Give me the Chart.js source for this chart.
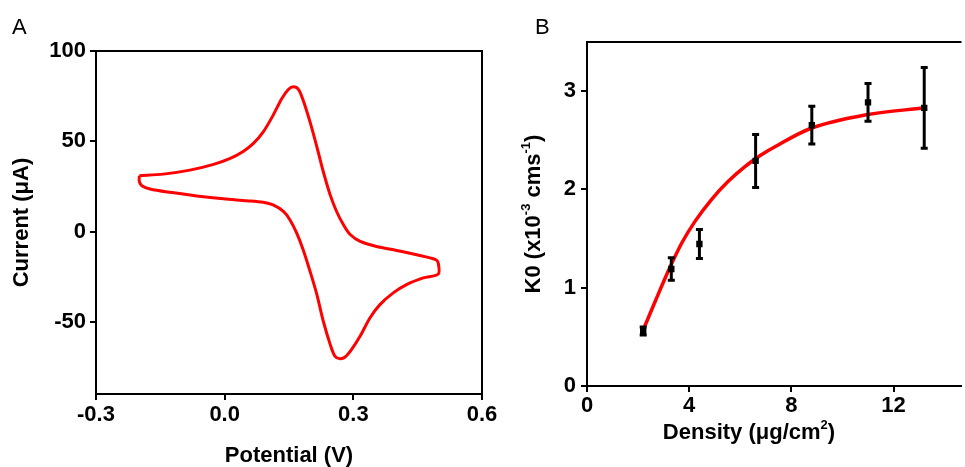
<!DOCTYPE html>
<html>
<head>
<meta charset="utf-8">
<script src="https://cdn.jsdelivr.net/npm/chart.js@4.4.1/dist/chart.umd.min.js"></script>
<style>
    html, body { margin: 0; padding: 0; background: #fff; }
    body { width: 965px; height: 467px; position: relative; overflow: hidden; font-family: "Liberation Sans", Arial, sans-serif; }
    .panel { position: absolute; top: 0; height: 467px; }
    #wrapA { left: 0; width: 500px; }
    #wrapB { left: 500px; width: 465px; }
    .tag { position: absolute; font-size: 22px; line-height: 22px; color: #000; }
</style>
</head>
<body>
<div class="panel" id="wrapA"><canvas id="cvChart"></canvas></div>
<div class="panel" id="wrapB"><canvas id="k0Chart"></canvas></div>
<div class="tag" style="left:12px;top:16px">A</div>
<div class="tag" style="left:535px;top:16px">B</div>
<script>
// Panel A - cyclic voltammogram, one closed loop
// lower branch left -> right, then upper branch right -> left
const cvPotential = [-0.199, -0.199, -0.193, -0.174, -0.127, -0.065, -0.003, 0.051, 0.090, 0.113,
    0.137, 0.152, 0.168, 0.183, 0.199, 0.215, 0.230, 0.246, 0.257, 0.269,
    0.281, 0.296, 0.316, 0.339, 0.362, 0.393, 0.424, 0.463, 0.498, 0.498,
    0.492, 0.448, 0.401, 0.354, 0.316, 0.292, 0.277, 0.261, 0.246, 0.230,
    0.215, 0.199, 0.183, 0.172, 0.160, 0.149, 0.133, 0.113, 0.090, 0.067,
    0.044, 0.013, -0.026, -0.081, -0.143, -0.199];
const cvCurrent = [30.9, 27.6, 25.4, 23.6, 21.7, 19.7, 18.1, 17.1, 16.2, 14.7,
    11.1, 6.5, -0.9, -10.1, -22.0, -34.9, -49.7, -62.5, -69.0, -70.5,
    -69.5, -65.3, -57.9, -47.8, -40.5, -34.0, -29.4, -25.7, -23.5, -17.5,
    -15.6, -12.9, -10.5, -8.3, -5.5, -1.5, 3.7, 11.1, 20.3, 33.1,
    46.9, 60.7, 72.7, 78.8, 80.2, 78.8, 73.6, 64.4, 55.2, 48.8,
    44.5, 40.5, 37.2, 34.0, 31.8, 30.9];
const potentialTicks = [-0.3, 0.0, 0.3, 0.6];
const currentTicks = [-50, 0, 50, 100];

// Panel B - K0 vs density
const densities = [2.2, 3.3, 4.4, 6.6, 8.8, 11.0, 13.2];
const k0 = [0.56, 1.19, 1.445, 2.29, 2.654, 2.886, 2.83];
const k0Err = [0.04, 0.115, 0.147, 0.27, 0.192, 0.193, 0.41];
const fitDensity = [2.2, 2.7, 3.27, 3.72, 4.24, 4.88, 5.52, 6.17, 6.81, 7.39, 8.75, 10.94, 13.2];
const fitK0 = [0.57, 0.88, 1.22, 1.46, 1.68, 1.90, 2.08, 2.23, 2.35, 2.44, 2.62, 2.76, 2.83];
const densityTicks = [0, 4, 8, 12];
const k0Ticks = [0, 1, 2, 3];

const FONT = '"Liberation Sans", Arial, sans-serif';
const tickFont = { family: FONT, size: 22, weight: 'bold' };
const titleFont = { family: FONT, size: 22, weight: 'bold', lineHeight: 1 };

// box lines on the sides without an axis
const framePlugin = {
    id: 'frame',
    afterDraw(chart, args, opts) {
        const { ctx, chartArea: a } = chart;
        ctx.save();
        ctx.strokeStyle = '#000';
        ctx.lineWidth = 2;
        ctx.lineCap = 'square';
        ctx.beginPath();
        ctx.moveTo(a.left, a.top);
        ctx.lineTo(a.right, a.top);
        if (opts.right) ctx.lineTo(a.right, a.bottom);
        ctx.stroke();
        ctx.restore();
    }
};

const errorBarPlugin = {
    id: 'errorBars',
    afterDatasetsDraw(chart) {
        const { ctx, scales: { x, y } } = chart;
        ctx.save();
        ctx.strokeStyle = '#000';
        ctx.lineWidth = 3;
        densities.forEach((d, i) => {
            const px = x.getPixelForValue(d);
            const top = y.getPixelForValue(k0[i] + k0Err[i]);
            const bot = y.getPixelForValue(k0[i] - k0Err[i]);
            ctx.beginPath();
            ctx.moveTo(px, top); ctx.lineTo(px, bot);
            ctx.moveTo(px - 3.5, top); ctx.lineTo(px + 3.5, top);
            ctx.moveTo(px - 3.5, bot); ctx.lineTo(px + 3.5, bot);
            ctx.stroke();
        });
        ctx.restore();
    }
};

// axis titles with superscripts
function drawRich(ctx, parts, cx, cy, angle) {
    const big = 'bold 22px ' + FONT;
    const small = 'bold 13px ' + FONT;
    let total = 0;
    parts.forEach(p => {
        ctx.font = p.sup ? small : big;
        p.w = ctx.measureText(p.t).width;
        total += p.w;
    });
    ctx.save();
    ctx.translate(cx, cy);
    ctx.rotate(angle);
    ctx.fillStyle = '#000';
    ctx.textBaseline = 'middle';
    ctx.textAlign = 'left';
    let xx = -total / 2;
    parts.forEach(p => {
        ctx.font = p.sup ? small : big;
        ctx.fillText(p.t, xx, p.sup ? -8 : 0);
        xx += p.w;
    });
    ctx.restore();
}

const richTitlePlugin = {
    id: 'richTitles',
    afterDraw(chart) {
        const { ctx, chartArea: a } = chart;
        drawRich(ctx, [{ t: 'Density (μg/cm' }, { t: '2', sup: true }, { t: ')' }],
            a.left + 162, 433, 0);
        drawRich(ctx, [{ t: 'K0 (x10' }, { t: '-3', sup: true }, { t: ' cms' }, { t: '-1', sup: true }, { t: ')' }],
            a.left - 53, (a.top + a.bottom) / 2, -Math.PI / 2);
    }
};

function axisBase(ticks, fmt, pad) {
    return {
        type: 'linear',
        afterBuildTicks: s => { s.ticks = ticks.map(v => ({ value: v })); },
        grid: { drawOnChartArea: false, tickLength: 6, color: '#000', lineWidth: 2 },
        border: { color: '#000', width: 2 },
        ticks: { font: tickFont, color: '#000', padding: pad, maxRotation: 0, autoSkip: false, callback: fmt }
    };
}

new Chart(document.getElementById('cvChart'), {
    type: 'scatter',
    data: {
        datasets: [{
            data: cvPotential.map((x, i) => ({ x: x, y: cvCurrent[i] })),
            showLine: true,
            borderColor: '#ff0000',
            borderWidth: 3,
            pointRadius: 0,
            tension: 0.3,
            fill: false
        }]
    },
    options: {
        responsive: true,
        maintainAspectRatio: false,
        animation: false,
        layout: { padding: { top: 51, right: 18, left: 0, bottom: 0 } },
        plugins: { legend: { display: false }, tooltip: { enabled: false }, frame: { right: true } },
        scales: {
            x: Object.assign(axisBase(potentialTicks, v => v.toFixed(1), 2), {
                min: -0.3, max: 0.6,
                afterFit: s => { s.height = 73; },
                title: { display: true, text: 'Potential (V)', font: titleFont, color: '#000', padding: 0 }
            }),
            y: Object.assign(axisBase(currentTicks, v => String(v), 4), {
                min: -90, max: 100,
                afterFit: s => { s.width = 96; },
                title: { display: true, text: 'Current (μA)', font: titleFont, color: '#000', padding: { top: 11, bottom: 0 } }
            })
        }
    },
    plugins: [framePlugin]
});

new Chart(document.getElementById('k0Chart'), {
    type: 'scatter',
    data: {
        datasets: [{
            data: densities.map((x, i) => ({ x: x, y: k0[i] })),
            pointStyle: 'rect',
            pointRadius: 4.5,
            backgroundColor: '#000',
            borderColor: '#000',
            borderWidth: 0
        }, {
            data: fitDensity.map((x, i) => ({ x: x, y: fitK0[i] })),
            showLine: true,
            borderColor: '#ff0000',
            borderWidth: 3.5,
            pointRadius: 0,
            cubicInterpolationMode: 'monotone',
            fill: false
        }]
    },
    options: {
        responsive: true,
        maintainAspectRatio: false,
        animation: false,
        layout: { padding: { top: 42, right: 0, left: 0, bottom: 0 } },
        plugins: { legend: { display: false }, tooltip: { enabled: false }, frame: { right: false } },
        scales: {
            x: Object.assign(axisBase(densityTicks, v => String(v), 1), {
                min: 0, max: 14.62,
                afterFit: s => { s.height = 81; }
            }),
            y: Object.assign(axisBase(k0Ticks, v => String(v), 5), {
                min: 0, max: 3.5,
                afterFit: s => { s.width = 87; }
            })
        }
    },
    plugins: [framePlugin, errorBarPlugin, richTitlePlugin]
});
</script>
</body>
</html>
